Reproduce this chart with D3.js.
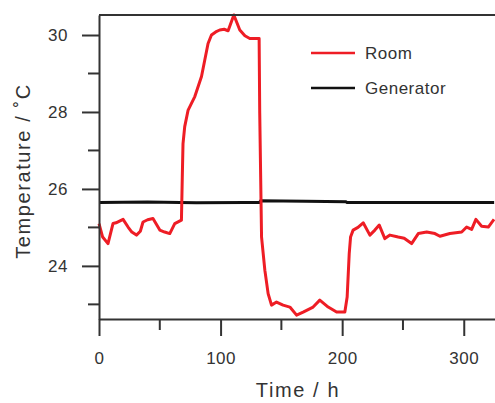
<!DOCTYPE html>
<html>
<head>
<meta charset="utf-8">
<script src="https://cdn.jsdelivr.net/npm/d3@7"></script>
<style>
  body { margin: 0; background: #fff; }
  svg text { font-family: "Liberation Sans", Arial, sans-serif; fill: #333; }
</style>
</head>
<body>
<div id="chart"></div>
<script>
const roomTime = [0, 3, 7.4, 11.5, 14, 19.8, 23.9, 27, 30.8, 34, 36.2, 40, 44.4, 50, 54, 58.2, 62.3, 67.8, 68.5, 69.1, 70.5, 73.3, 78.8, 84.3, 87, 89.7, 92.5, 96, 99.3, 103, 106.2, 110.9, 115.8, 120, 124, 131.7, 132.2, 133.7, 136.4, 139.1, 141.9, 146, 151.4, 157, 162.5, 167.9, 176.1, 181.6, 188.5, 195.4, 202.2, 204.1, 205.8, 206.9, 209, 213, 217.3, 222.8, 226.9, 230.5, 235.1, 239.3, 246.1, 251, 257.1, 262.6, 269.5, 276.3, 280.4, 288.6, 298.3, 302.4, 306.5, 310, 314.7, 320.2, 324.9];
const roomTemp = [25.1, 24.75, 24.58, 25.1, 25.12, 25.21, 25.01, 24.88, 24.8, 24.9, 25.14, 25.2, 25.23, 24.93, 24.88, 24.84, 25.1, 25.19, 26.3, 27.18, 27.62, 28.05, 28.4, 28.92, 29.35, 29.78, 30.0, 30.08, 30.13, 30.15, 30.11, 30.52, 30.13, 29.98, 29.91, 29.91, 27.97, 24.75, 23.89, 23.28, 22.98, 23.06, 22.98, 22.93, 22.72, 22.8, 22.93, 23.11, 22.93, 22.8, 22.8, 23.19, 24.32, 24.75, 24.93, 25.0, 25.12, 24.8, 24.93, 25.06, 24.71, 24.8, 24.75, 24.72, 24.58, 24.84, 24.88, 24.84, 24.77, 24.84, 24.88, 25.01, 24.95, 25.21, 25.03, 25.01, 25.21];

const genTime = [0, 40, 80, 120, 132, 133, 170, 203, 204, 260, 325];
const genTemp = [25.65, 25.66, 25.64, 25.65, 25.65, 25.69, 25.68, 25.67, 25.65, 25.65, 25.65];

const xTicks = [0, 100, 200, 300];
const xMinor = [50, 150, 250];
const yTicks = [24, 26, 28, 30];
const yMinor = [23, 25, 27, 29];

const legendNames = ["Room", "Generator"];
const legendColors = ["#ee1d25", "#111111"];

const width = 495, height = 403;
const margin = {top: 15, right: 0, bottom: 84, left: 99};

const svg = d3.select("#chart").append("svg")
  .attr("width", width).attr("height", height);

const x = d3.scaleLinear().domain([0, 325.7]).range([margin.left, width - margin.right]);
const y = d3.scaleLinear().domain([22.62, 30.52]).range([height - margin.bottom, margin.top]);

const line = d3.line().x(d => x(d[0])).y(d => y(d[1]));

// generator first, room on top
svg.append("path")
  .datum(d3.zip(genTime, genTemp))
  .attr("d", line)
  .attr("fill", "none")
  .attr("stroke", legendColors[1])
  .attr("stroke-width", 3);

svg.append("path")
  .datum(d3.zip(roomTime, roomTemp))
  .attr("d", line)
  .attr("fill", "none")
  .attr("stroke", legendColors[0])
  .attr("stroke-width", 3)
  .attr("stroke-linejoin", "round");

// frame top
svg.append("line")
  .attr("x1", margin.left).attr("x2", width)
  .attr("y1", margin.top).attr("y2", margin.top)
  .attr("stroke", "#333").attr("stroke-width", 2);

// axes
const xAxis = svg.append("g")
  .attr("transform", `translate(0,${height - margin.bottom})`)
  .call(d3.axisBottom(x).tickValues(xTicks).tickSize(17).tickPadding(16).tickSizeOuter(0));
xAxis.append("g").selectAll("line").data(xMinor).join("line")
  .attr("x1", d => x(d)).attr("x2", d => x(d))
  .attr("y1", 0).attr("y2", 11)
  .attr("stroke", "#333").attr("stroke-width", 2);

const yAxis = svg.append("g")
  .attr("transform", `translate(${margin.left},0)`)
  .call(d3.axisLeft(y).tickValues(yTicks).tickSize(17).tickPadding(14).tickSizeOuter(0));
yAxis.append("g").selectAll("line").data(yMinor).join("line")
  .attr("x1", 0).attr("x2", -11)
  .attr("y1", d => y(d)).attr("y2", d => y(d))
  .attr("stroke", "#333").attr("stroke-width", 2);

[xAxis, yAxis].forEach(a => {
  a.select(".domain").attr("stroke", "#333").attr("stroke-width", 2);
  a.selectAll(".tick line").attr("stroke", "#333").attr("stroke-width", 2);
  a.selectAll(".tick text").attr("font-size", 17).attr("fill", "#333")
    .attr("letter-spacing", "0.5px")
    .style("font-family", '"Liberation Sans", Arial, sans-serif');
});

// axis titles
svg.append("text")
  .attr("x", 298).attr("y", 397)
  .attr("text-anchor", "middle")
  .attr("font-size", 20)
  .attr("letter-spacing", "1.6px")
  .text("Time / h");

svg.append("text")
  .attr("transform", `translate(30,171) rotate(-90)`)
  .attr("text-anchor", "middle")
  .attr("font-size", 20)
  .attr("letter-spacing", "1.6px")
  .text("Temperature / ˚C");

// legend
const legend = svg.append("g").attr("class", "legend");
legendNames.forEach((name, i) => {
  const ly = 53 + i * 35;
  legend.append("line")
    .attr("x1", 311).attr("x2", 355)
    .attr("y1", ly).attr("y2", ly)
    .attr("stroke", legendColors[i]).attr("stroke-width", 2.5);
  legend.append("text")
    .attr("x", 365).attr("y", ly)
    .attr("dy", "0.35em")
    .attr("font-size", 17)
    .attr("letter-spacing", "0.5px")
    .text(name);
});
</script>
</body>
</html>
